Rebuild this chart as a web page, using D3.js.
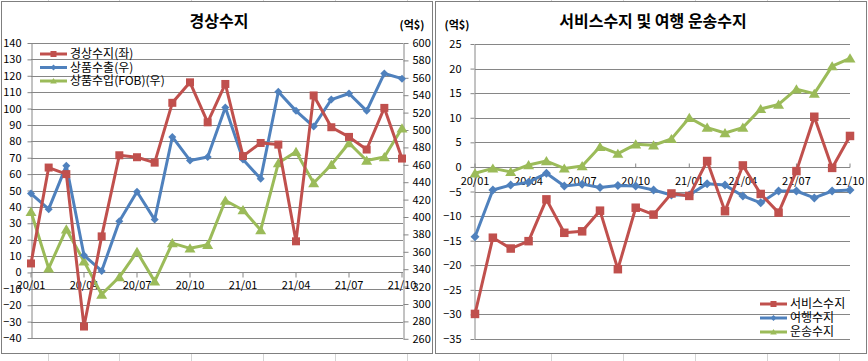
<!DOCTYPE html>
<html><head><meta charset="utf-8">
<script src="https://cdn.jsdelivr.net/npm/d3@7"></script>
<style>
body{margin:0;background:#fff;}
svg{display:block;font-family:"Noto Sans CJK KR","Noto Sans",sans-serif;}
</style></head>
<body><svg id="c" width="868" height="361"></svg>
<script>
const months = ["20/01","20/02","20/03","20/04","20/05","20/06","20/07","20/08","20/09","20/10","20/11","20/12",
"21/01","21/02","21/03","21/04","21/05","21/06","21/07","21/08","21/09","21/10"];
const tickMonths = ["20/01","20/04","20/07","20/10","21/01","21/04","21/07","21/10"];

// Left chart: 경상수지
const currentAccount = [5.5,64,60,-33,22,71.5,70.3,67,103.5,116,91.6,115,71,79,78,19,108,88.6,82.7,75,100.4,69.5];
const goodsExport = [427,409,459,356,338,395,429,397,492,465,469,526,466,444,544,522,504,535,542,522,565,559];
const goodsImport = [406,341,386,349,311,331,360,326,370,364,368,419,408,385,462,475,439,460,485,465,469,502];
const leftTicks = d3.range(-40,141,10);
const rightTicks = d3.range(260,601,20);

// Right chart: 서비스수지 및 여행 운송수지
const serviceBal = [-29.9,-14.4,-16.6,-15.1,-6.6,-13.4,-13.1,-8.9,-20.8,-8.3,-9.7,-5.4,-5.9,1.2,-9.0,0.3,-5.5,-9.3,-0.85,10.2,-0.2,6.3];
const travelBal = [-14.2,-4.7,-3.7,-3.1,-1.3,-3.9,-3.5,-4.2,-3.8,-3.9,-4.7,-5.7,-5.7,-3.4,-3.7,-5.9,-7.3,-4.9,-4.9,-6.3,-4.9,-4.7];
const transportBal = [-1.3,-0.3,-1.0,0.4,1.2,-0.3,0.2,4.1,2.7,4.6,4.4,5.7,10.0,8.0,6.9,8.0,11.8,12.7,15.8,14.9,20.5,22.1];
const r2Ticks = d3.range(-35,26,5);

const RED="#C0504D", BLUE="#4F81BD", GREEN="#9BBB59", GRID="#868686";
const svg = d3.select("#c");

// spreadsheet background grid
[48,119,191,263,335,407,479,551,623,695,767,839].forEach(x=>{
  svg.append("line").attr("x1",x+0.5).attr("x2",x+0.5).attr("y1",0).attr("y2",361).attr("stroke","#d4d4d4");
});

function frame(x0,x1){
  svg.append("rect").attr("x",x0+0.5).attr("y",1.5).attr("width",x1-x0).attr("height",352)
    .attr("fill","#fff").attr("stroke","#7f7f7f");
}
frame(1,432); frame(435,866);

function marker(g, type, x, y, color, s){
  if(type==="square") g.append("rect").attr("x",x-s/2).attr("y",y-s/2).attr("width",s).attr("height",s).attr("fill",color);
  else if(type==="diamond") g.append("path").attr("d",`M${x},${y-s/2}L${x+s/2},${y}L${x},${y+s/2}L${x-s/2},${y}Z`).attr("fill",color);
  else g.append("path").attr("d",`M${x},${y-s*0.5}L${x+s*0.55},${y+s*0.42}L${x-s*0.55},${y+s*0.42}Z`).attr("fill",color);
}
function series(g, data, x, y, color, type, s){
  const line = d3.line().x((d,i)=>x(months[i])).y(d=>y(d));
  g.append("path").datum(data).attr("d",line).attr("fill","none").attr("stroke",color).attr("stroke-width",3).attr("stroke-linejoin","round");
  data.forEach((d,i)=>marker(g,type,x(months[i]),y(d),color,s));
}
function legend(g, x, y, color, type, label){
  g.append("line").attr("x1",x).attr("x2",x+27).attr("y1",y).attr("y2",y).attr("stroke",color).attr("stroke-width",3);
  marker(g,type,x+13.5,y,color,type==="square"?6:6);
  g.append("text").attr("x",x+30).attr("y",y).attr("dy","0.35em").attr("font-size",12).attr("fill","#000").text(label);
}

// ---------- Left chart ----------
{
  const g = svg.append("g");
  const x = d3.scalePoint().domain(months).range([31,402]);
  const yL = d3.scaleLinear().domain([-40,140]).range([338,43]);
  const yR = d3.scaleLinear().domain([260,600]).range([338.8,43]);
  // gridlines
  g.append("g").selectAll("line").data(leftTicks).join("line")
    .attr("x1",31).attr("x2",403).attr("y1",d=>Math.round(yL(d))+0.5).attr("y2",d=>Math.round(yL(d))+0.5)
    .attr("stroke",GRID).attr("stroke-width",1);
  // left axis
  const ax = g.append("g").attr("transform","translate(31.5,0)")
    .call(d3.axisLeft(yL).tickValues(leftTicks).tickSize(4).tickPadding(6).tickSizeOuter(0));
  ax.select(".domain").attr("stroke",GRID);
  ax.selectAll(".tick line").attr("stroke",GRID);
  ax.selectAll("text").attr("font-size",11).attr("fill","#000").attr("font-family","Noto Sans CJK KR");
  // right axis
  const ar = g.append("g").attr("transform","translate(403.5,0)")
    .call(d3.axisRight(yR).tickValues(rightTicks).tickSize(5).tickPadding(4).tickSizeOuter(0));
  ar.select(".domain").attr("stroke",GRID);
  ar.selectAll(".tick line").attr("stroke",GRID);
  ar.selectAll("text").attr("font-size",11).attr("fill","#000").attr("font-family","Noto Sans CJK KR");
  // x axis at 0
  const y0 = Math.round(yL(0))+0.5;
  g.append("line").attr("x1",31).attr("x2",403).attr("y1",y0).attr("y2",y0).attr("stroke",GRID);
  g.append("g").selectAll("line").data(tickMonths).join("line")
    .attr("x1",d=>x(d)).attr("x2",d=>x(d)).attr("y1",y0).attr("y2",y0+5).attr("stroke",GRID);
  g.append("g").selectAll("text").data(tickMonths).join("text")
    .attr("x",d=>x(d)).attr("y",y0+16).attr("text-anchor","middle").attr("font-size",11).text(d=>d);
  // series
  series(g, goodsImport, x, yR, GREEN, "triangle", 10);
  series(g, goodsExport, x, yR, BLUE, "diamond", 8);
  series(g, currentAccount, x, yL, RED, "square", 8);
  // title
  g.append("text").attr("x",219).attr("y",27).attr("text-anchor","middle").attr("font-size",16).attr("font-weight","bold").text("경상수지");
  g.append("text").attr("x",412).attr("y",29).attr("text-anchor","middle").attr("font-size",11).attr("font-weight","bold").text("(억$)");
  // legend
  legend(g,40,54,RED,"square","경상수지(좌)");
  legend(g,40,67.5,BLUE,"diamond","상품수출(우)");
  legend(g,40,81,GREEN,"triangle","상품수입(FOB)(우)");
}

// ---------- Right chart ----------
{
  const g = svg.append("g");
  const x = d3.scalePoint().domain(months).range([475,850]);
  const y = d3.scaleLinear().domain([-35,25]).range([339,44]);
  g.append("g").selectAll("line").data(r2Ticks).join("line")
    .attr("x1",475).attr("x2",850).attr("y1",d=>Math.round(y(d))+0.5).attr("y2",d=>Math.round(y(d))+0.5)
    .attr("stroke",GRID);
  const ax = g.append("g").attr("transform","translate(474.5,0)")
    .call(d3.axisLeft(y).tickValues(r2Ticks).tickSize(4).tickPadding(9).tickSizeOuter(0));
  ax.select(".domain").attr("stroke",GRID);
  ax.selectAll(".tick line").attr("stroke",GRID);
  ax.selectAll("text").attr("font-size",11).attr("fill","#000").attr("font-family","Noto Sans CJK KR");
  const y0 = Math.round(y(0))+0.5;
  g.append("g").selectAll("line").data(tickMonths).join("line")
    .attr("x1",d=>x(d)).attr("x2",d=>x(d)).attr("y1",y0-4).attr("y2",y0).attr("stroke",GRID);
  g.append("g").selectAll("text").data(tickMonths).join("text")
    .attr("x",d=>x(d)).attr("y",y0+17).attr("text-anchor","middle").attr("font-size",11).text(d=>d);
  series(g, transportBal, x, y, GREEN, "triangle", 10);
  series(g, travelBal, x, y, BLUE, "diamond", 9);
  series(g, serviceBal, x, y, RED, "square", 8.5);
  g.append("text").attr("x",653).attr("y",27).attr("text-anchor","middle").attr("font-size",16).attr("font-weight","bold").text("서비스수지 및 여행 운송수지");
  g.append("text").attr("x",457).attr("y",29).attr("text-anchor","middle").attr("font-size",11).attr("font-weight","bold").text("(억$)");
  legend(g,760,304,RED,"square","서비스수지");
  legend(g,760,318,BLUE,"diamond","여행수지");
  legend(g,760,332,GREEN,"triangle","운송수지");
}
</script></body></html>
